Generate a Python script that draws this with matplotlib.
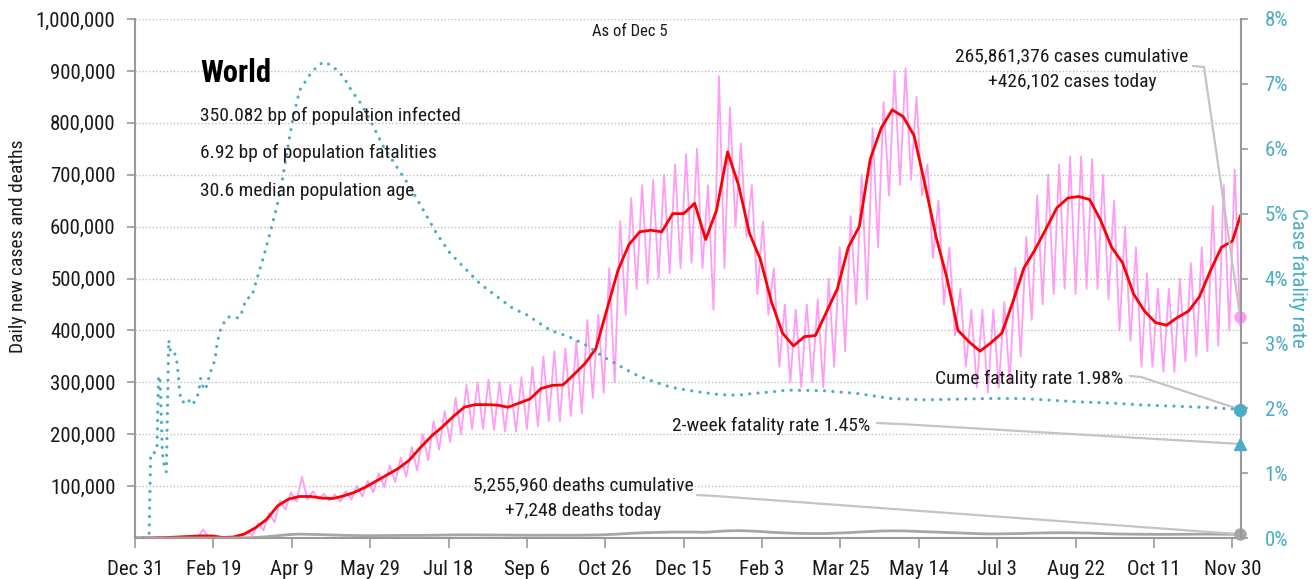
import matplotlib
matplotlib.use("Agg")
import matplotlib.pyplot as plt
from matplotlib import font_manager

# ---------------- data (values in thousands unless noted) ----------------
week_step = 7            # days between weekly samples
last_day = 705           # Dec 5 (days since Dec 31)

xtick_days = [0, 50, 100, 150, 200, 250, 300, 350, 400, 450, 500, 550, 600, 650, 700]
xtick_labels = ["Dec 31", "Feb 19", "Apr 9", "May 29", "Jul 18", "Sep 6", "Oct 26",
                "Dec 15", "Feb 3", "Mar 25", "May 14", "Jul 3", "Aug 22", "Oct 11", "Nov 30"]

# 7-day average of new cases, one value per week (thousands)
cases_avg = [0, 0, 0.5, 1, 2, 3, 4, 4, 1, 2,
             8, 20, 36, 62, 75, 80, 80, 77, 76, 81,
             88, 98, 110, 122, 134, 150, 174, 196, 214, 234,
             252, 257, 257, 256, 252, 260, 268, 288, 294, 295,
             315, 336, 365, 440, 515, 565, 590, 593, 590, 625,
             625, 645, 575, 632, 744, 680, 587, 536, 455, 395,
             370, 388, 390, 435, 480, 560, 600, 730, 790, 825,
             812, 775, 680, 580, 500, 400, 378, 360, 376, 395,
             455, 520, 555, 595, 636, 655, 658, 652, 612, 560,
             530, 470, 437, 415, 410, 425, 437, 465, 515, 560,
             572]
cases_avg_last = 620

# daily new cases: weekly high and weekly low (thousands)
cases_high = [0, 0, 1, 2, 3, 4, 16, 5, 2, 4,
              12, 28, 48, 72, 88, 118, 90, 85, 84, 90,
              100, 110, 125, 140, 155, 175, 200, 225, 245, 270,
              295, 300, 305, 300, 295, 310, 330, 350, 360, 365,
              380, 420, 430, 520, 610, 655, 680, 690, 700, 720,
              740, 750, 680, 890, 830, 760, 680, 610, 520, 450,
              440, 450, 460, 500, 560, 620, 700, 790, 840, 900,
              905, 850, 720, 650, 560, 480, 440, 440, 440, 455,
              520, 580, 660, 700, 720, 735, 735, 730, 700, 650,
              600, 560, 510, 480, 480, 500, 530, 560, 640, 680,
              710]
cases_low = [0, 0, 0, 0.5, 1, 2, 2, 2, 0.5, 1,
             5, 15, 30, 55, 70, 74, 75, 72, 70, 74,
             80, 88, 98, 108, 118, 130, 150, 170, 185, 200,
             210, 210, 208, 205, 205, 210, 215, 225, 225, 235,
             240, 270, 280, 300, 430, 480, 490, 500, 510, 520,
             530, 520, 440, 520, 600, 580, 470, 430, 330, 300,
             290, 300, 290, 330, 360, 450, 460, 560, 660, 680,
             690, 660, 540, 450, 390, 330, 290, 280, 290, 300,
             350, 420, 450, 470, 480, 470, 480, 480, 460, 400,
             380, 330, 330, 320, 320, 340, 350, 360, 370, 400,
             410]
cases_today = 426.102
cases_cumulative = 265861376

# daily deaths (7-day average), one value per week (thousands)
deaths_avg = [0, 0, 0, 0, 0.05, 0.1, 0.1, 0.1, 0.1, 0.2,
              0.4, 1.0, 2.5, 4.5, 6.5, 7.5, 7.0, 6.5, 5.8, 5.2,
              4.8, 4.5, 4.6, 4.8, 5.0, 5.0, 5.0, 5.3, 5.7, 6.0,
              6.2, 6.0, 5.9, 5.8, 5.6, 5.4, 5.3, 5.3, 5.5, 5.3,
              5.3, 5.5, 5.8, 6.5, 7.5, 8.8, 9.8, 10.5, 11.0, 11.5,
              11.5, 11.5, 11.0, 12.5, 13.8, 14.2, 13.5, 12.5, 11.0, 10.0,
              9.2, 8.8, 8.5, 8.6, 9.5, 10.2, 11.5, 12.5, 13.5, 13.8,
              13.7, 13.0, 12.0, 11.5, 10.5, 9.8, 9.0, 8.2, 7.8, 8.0,
              8.4, 8.8, 9.5, 9.9, 10.1, 10.2, 9.8, 9.5, 8.7, 8.0,
              7.6, 7.3, 7.2, 7.0, 7.0, 7.1, 7.3, 7.4, 7.5, 7.3,
              7.2]
deaths_today = 7.248
deaths_cumulative = 5255960

# cumulative case fatality rate (%), sampled at these days
cfr_days = [0, 3, 6, 9, 10, 12, 14, 15, 16, 17.5, 19, 20, 21.5, 22.5, 24, 25, 26.5, 27.5,
            28.3, 29, 30.4, 33.6, 36.2, 38.7, 40.4, 41.9, 44, 46.2, 47.2, 48.9, 51, 52.5,
            55, 59.5, 64, 67, 71, 74.5, 77.6, 82, 86, 90.4, 93.6, 95.7, 99, 101, 105, 112,
            117, 121, 126.6, 133, 138, 144, 150, 158.5, 167, 175.5, 184, 192.5, 201, 209.5,
            220, 231, 241, 250, 265, 277, 288, 299, 310, 320, 331, 341, 352, 363, 373, 384,
            395, 405, 416, 439, 460, 482, 503, 524, 546, 565, 580, 601, 622, 643, 665, 686, 705]
cfr_pct = [0, 0, 0, 0.05, 1.3, 1.31, 1.35, 2.5, 2.45, 1.3, 1.05, 1.02, 3.05, 2.9, 2.85, 2.87, 2.75, 2.55,
           2.3, 2.18, 2.09, 2.15, 2.05, 2.12, 2.23, 2.46, 2.28, 2.36, 2.49, 2.61, 2.74, 3.02,
           3.26, 3.41, 3.39, 3.4, 3.69, 3.72, 3.98, 4.33, 4.69, 5.10, 5.46, 5.77, 6.24, 6.49, 6.90, 7.16,
           7.29, 7.34, 7.26, 7.11, 6.90, 6.70, 6.44, 6.03, 5.72, 5.41, 5.05, 4.69, 4.39, 4.18,
           3.92, 3.72, 3.54, 3.44, 3.20, 3.10, 2.97, 2.79, 2.64, 2.51, 2.41, 2.33, 2.28, 2.24, 2.21, 2.20,
           2.23, 2.25, 2.28, 2.27, 2.23, 2.15, 2.13, 2.14, 2.15, 2.15, 2.13, 2.10, 2.08, 2.05, 2.03, 2.01, 1.98]
cume_fatality = 1.98
two_week_fatality = 1.45

region = "World"
bp_infected = 350.082
bp_fatalities = 6.92
median_age = 30.6
as_of = "As of Dec 5"

# ---------------- style ----------------
names = {f.name for f in font_manager.fontManager.ttflist}
FONT = "DejaVu Sans"
for cand in ["Liberation Sans Narrow", "Roboto Condensed", "DejaVu Sans Condensed", "Liberation Sans"]:
    if cand in names:
        FONT = cand
        break
plt.rcParams["font.family"] = [FONT, "DejaVu Sans"]

BLUE = "#4bacc6"
PINK = "#ff9cf5"
RED = "#ff0000"
GRAY = "#a6a6a6"
AXIS = "#999999"
TXT = "#1a1a1a"
LEAD = "#c4c4c4"

W, H = 1316, 579
fig = plt.figure(figsize=(W / 100, H / 100), dpi=100)
L, R, T, B = 135, 1241, 19, 538
ax = fig.add_axes([L / W, 1 - B / H, (R - L) / W, (B - T) / H])
ax2 = ax.twinx()

def fx(px):
    return px / W

def fy(py):
    return 1 - py / H

# ---------------- series ----------------
wx = [week_step * i for i in range(len(cases_avg))]

pink_x, pink_y = [], []
for i, (h, l) in enumerate(zip(cases_high, cases_low)):
    pink_x += [week_step * i + 1.5, week_step * i + 5]
    pink_y += [h * 1000, l * 1000]
pink_x.append(last_day)
pink_y.append(cases_today * 1000)
ax.plot(pink_x, pink_y, color=PINK, lw=1.3, zorder=2)

ax.plot(wx + [last_day], [v * 1000 for v in cases_avg] + [cases_avg_last * 1000],
        color=RED, lw=2.0, zorder=3)
ax.plot(wx + [last_day], [v * 1000 for v in deaths_avg] + [deaths_today * 1000],
        color=GRAY, lw=2.0, zorder=3)

ax2.plot(cfr_days, cfr_pct, color=BLUE, lw=2.3, linestyle=(0, (0.01, 2.6)),
         dash_capstyle="round", zorder=4)

# end markers
ax.plot([last_day], [cases_today * 1000], "o", color=PINK, ms=8, clip_on=False, zorder=6)
ax.plot([last_day], [deaths_today * 1000], "o", color=GRAY, ms=8, clip_on=False, zorder=6)
ax2.plot([last_day], [cume_fatality], "o", color=BLUE, ms=8.5, clip_on=False, zorder=6)
ax2.plot([last_day], [two_week_fatality], "^", color=BLUE, ms=9, clip_on=False, zorder=6)

# ---------------- axes ----------------
ax.set_xlim(0, 705.5)
ax.set_ylim(0, 1_000_000)
ax2.set_ylim(0, 8)

ax.set_yticks(range(100_000, 1_000_001, 100_000))
ax.set_yticklabels([f"{v:,}" for v in range(100_000, 1_000_001, 100_000)])
ax.set_xticks(xtick_days)
ax.set_xticklabels(xtick_labels)
ax2.set_yticks(range(0, 9))
ax2.set_yticklabels([f"{v}%" for v in range(0, 9)])

for y in range(100_000, 1_000_001, 100_000):
    ax.axhline(y, color="#bfbfbf", lw=1.0, linestyle=(0, (1, 1.5)), zorder=0)

for a in (ax, ax2):
    a.spines["top"].set_visible(False)
    a.patch.set_visible(False)
ax.spines["right"].set_visible(False)
ax2.spines["left"].set_visible(False)
ax2.spines["bottom"].set_visible(False)
for s in ("left", "bottom"):
    ax.spines[s].set_color(AXIS)
    ax.spines[s].set_linewidth(1.5)
ax2.spines["right"].set_color(AXIS)
ax2.spines["right"].set_linewidth(1.5)

ax.tick_params(axis="x", direction="out", length=7, width=1.2, color=AXIS,
               labelsize=15, labelcolor=TXT, pad=9)
ax.tick_params(axis="y", direction="out", length=6, width=1.2, color=AXIS,
               labelsize=15, labelcolor=TXT, pad=8)
ax2.tick_params(axis="y", direction="out", length=5, width=1.2, color=AXIS,
                labelsize=15, labelcolor=BLUE, pad=12)

fig.text(fx(18), fy(246), "Daily new cases and deaths", rotation=90, ha="center",
         va="center", fontsize=14, color=TXT)
fig.text(fx(1298), fy(278), "Case fatality rate", rotation=270, ha="center",
         va="center", fontsize=15, color=BLUE)

# ---------------- text ----------------
fig.text(fx(200), fy(82), region, fontsize=22, fontweight="bold", color="black", va="baseline")
fig.text(fx(200), fy(121), f"{bp_infected:.3f} bp of population infected", fontsize=14,
         color=TXT, va="baseline")
fig.text(fx(200), fy(158), f"{bp_fatalities:.2f} bp of population fatalities", fontsize=14,
         color=TXT, va="baseline")
fig.text(fx(200), fy(196), f"{median_age:.1f} median population age", fontsize=14,
         color=TXT, va="baseline")
fig.text(fx(630), fy(36), as_of, fontsize=12, color=TXT, ha="center", va="baseline")

fig.text(fx(1072), fy(61), f"{cases_cumulative:,} cases cumulative", fontsize=14,
         color=TXT, ha="center", va="baseline")
fig.text(fx(1072), fy(87), f"+{int(round(cases_today * 1000)):,} cases today", fontsize=14,
         color=TXT, ha="center", va="baseline")
fig.text(fx(1123), fy(384), f"Cume fatality rate {cume_fatality:.2f}%", fontsize=14,
         color=TXT, ha="right", va="baseline")
fig.text(fx(870), fy(431), f"2-week fatality rate {two_week_fatality:.2f}%", fontsize=14,
         color=TXT, ha="right", va="baseline")
fig.text(fx(583), fy(490), f"{deaths_cumulative:,} deaths cumulative", fontsize=14,
         color=TXT, ha="center", va="baseline")
fig.text(fx(583), fy(516), f"+{int(round(deaths_today * 1000)):,} deaths today", fontsize=14,
         color=TXT, ha="center", va="baseline")

# leader lines: short horizontal stub then straight to the marker
def leader(axis, x0, y0, x1, y1, xd, yd):
    axis.annotate("", xy=(fx(x1), fy(y1)), xycoords="figure fraction",
                  xytext=(fx(x0), fy(y0)), textcoords="figure fraction",
                  arrowprops=dict(arrowstyle="-", color=LEAD, lw=1.6, shrinkA=0, shrinkB=0),
                  annotation_clip=False)
    axis.annotate("", xy=(xd, yd), xycoords="data",
                  xytext=(fx(x1), fy(y1)), textcoords="figure fraction",
                  arrowprops=dict(arrowstyle="-", color=LEAD, lw=1.6, shrinkA=0, shrinkB=0),
                  annotation_clip=False)

leader(ax, 1193, 66, 1204, 67, last_day, cases_today * 1000)
leader(ax2, 1130, 376, 1141, 377, last_day, cume_fatality)
leader(ax2, 877, 423, 900, 424, last_day, two_week_fatality)
leader(ax, 697, 495, 715, 496, last_day, deaths_today * 1000)

fig.savefig("out.png", dpi=100)
